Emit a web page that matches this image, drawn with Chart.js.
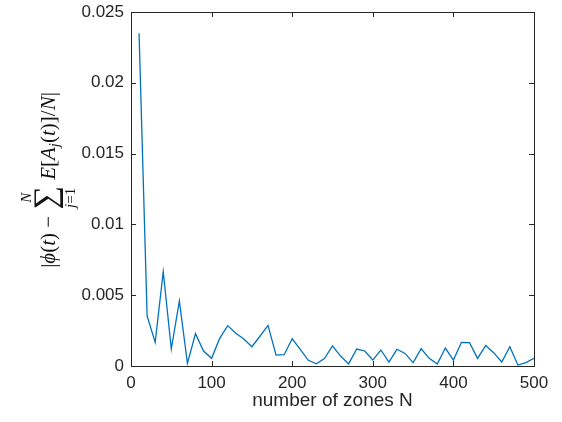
<!DOCTYPE html>
<html>
<head>
<meta charset="utf-8">
<script src="https://cdn.jsdelivr.net/npm/chart.js@4.4.1/dist/chart.umd.min.js"></script>
<style>
  body { margin: 0; background: #fff; }
  #wrap { width: 562px; height: 422px; }
</style>
</head>
<body>
<div id="wrap"><canvas id="error-chart" width="562" height="422"></canvas></div>
<script>
const zonesN = [10, 20, 30, 40, 50, 60, 70, 80, 90, 100,
  110, 120, 130, 140, 150, 160, 170, 180, 190, 200,
  210, 220, 230, 240, 250, 260, 270, 280, 290, 300,
  310, 320, 330, 340, 350, 360, 370, 380, 390, 400,
  410, 420, 430, 440, 450, 460, 470, 480, 490, 500];
const errorValues = [0.0235, 0.00353, 0.00167, 0.00666, 0.0012, 0.00459, 0.00019, 0.00228, 0.00106, 0.00054,
  0.00195, 0.00285, 0.00231, 0.0019, 0.00136, 0.0021, 0.00287, 0.00077, 0.0008, 0.00192,
  0.00118, 0.0004, 0.00015, 0.00052, 0.00142, 0.0007, 0.00015, 0.0012, 0.00106, 0.00042,
  0.00113, 0.00028, 0.00118, 0.00089, 0.00024, 0.00122, 0.00054, 0.00014, 0.00127, 0.00042,
  0.00167, 0.00165, 0.00054, 0.00144, 0.00094, 0.00028, 0.00136, 0.00007, 0.00024, 0.00054];
const xTickValues = [0, 100, 200, 300, 400, 500];
const yTickValues = [0, 0.005, 0.01, 0.015, 0.02, 0.025];
const yTickLabels = ["0", "0.005", "0.01", "0.015", "0.02", "0.025"];
const xTitle = "number of zones N";

const AXIS_COLOR = "#262626";
const SANS = "'Liberation Sans', Arial, sans-serif";
const SERIF = "'Liberation Serif', 'Times New Roman', serif";

// draws the pieces of the math label along a rotated baseline
function drawMathLabel(ctx, cy, baseX) {
  const fs = 21;
  const it = `italic ${fs}px ${SERIF}`;
  const rm = `${fs}px ${SERIF}`;
  const small = `${Math.round(fs * 0.7)}px ${SERIF}`;
  const smallIt = `italic ${Math.round(fs * 0.7)}px ${SERIF}`;
  const big = `${Math.round(fs * 1.55)}px ${SERIF}`;

  const pieces = [
    { t: "|", f: rm }, { t: "ϕ", f: it }, { t: "(", f: rm }, { t: "t", f: it }, { t: ")", f: rm },
    { t: " − ", f: rm },
    { sigma: true },
    { t: " ", f: rm },
    { t: "E", f: it }, { t: "[", f: rm }, { t: "A", f: it }, { t: "j", f: smallIt, dy: 4 },
    { t: "(", f: rm }, { t: "t", f: it }, { t: ")", f: rm }, { t: "]", f: rm },
    { t: "/", f: rm }, { t: "N", f: it }, { t: "|", f: rm }
  ];

  ctx.save();
  ctx.fillStyle = "#111";
  ctx.textBaseline = "alphabetic";
  let total = 0;
  pieces.forEach(p => {
    if (p.sigma) {
      ctx.font = big;
      p.w = ctx.measureText("∑").width + 2;
    } else {
      ctx.font = p.f;
      p.w = ctx.measureText(p.t).width;
    }
    total += p.w;
  });

  ctx.translate(baseX, cy);
  ctx.rotate(-Math.PI / 2);
  let x = -total / 2;
  pieces.forEach(p => {
    if (p.sigma) {
      const mid = x + p.w / 2;
      ctx.font = big;
      ctx.textAlign = "center";
      ctx.fillText("∑", mid, 1);
      ctx.font = smallIt;
      ctx.fillText("N", mid, -24);
      const jw = ctx.measureText("j").width;
      ctx.font = small;
      const rest = ctx.measureText("=1").width;
      const start = mid - (jw + rest) / 2;
      ctx.textAlign = "left";
      ctx.font = smallIt;
      ctx.fillText("j", start, 20);
      ctx.font = small;
      ctx.fillText("=1", start + jw, 20);
    } else {
      ctx.font = p.f;
      ctx.textAlign = "left";
      ctx.fillText(p.t, x, p.dy || 0);
    }
    x += p.w;
  });
  ctx.restore();
}

const matlabAxes = {
  id: "matlabAxes",
  afterDraw(chart) {
    const { ctx, chartArea: a, scales } = chart;
    const tick = 5;
    ctx.save();
    ctx.strokeStyle = AXIS_COLOR;
    ctx.lineWidth = 1;
    ctx.strokeRect(Math.round(a.left) + 0.5, Math.round(a.top) + 0.5,
      Math.round(a.right - a.left), Math.round(a.bottom - a.top));
    ctx.beginPath();
    xTickValues.forEach(v => {
      const px = Math.round(scales.x.getPixelForValue(v)) + 0.5;
      ctx.moveTo(px, a.bottom); ctx.lineTo(px, a.bottom - tick);
      ctx.moveTo(px, a.top); ctx.lineTo(px, a.top + tick);
    });
    yTickValues.forEach(v => {
      const py = Math.round(scales.y.getPixelForValue(v)) + 0.5;
      ctx.moveTo(a.left, py); ctx.lineTo(a.left + tick, py);
      ctx.moveTo(a.right, py); ctx.lineTo(a.right - tick, py);
    });
    ctx.stroke();

    ctx.fillStyle = AXIS_COLOR;
    ctx.font = `19px ${SANS}`;
    ctx.textAlign = "center";
    ctx.textBaseline = "alphabetic";
    ctx.fillText(xTitle, (a.left + a.right) / 2, 406);
    ctx.restore();

    drawMathLabel(ctx, 180, 55);
  }
};

const chart = new Chart(document.getElementById("error-chart"), {
  type: "line",
  data: {
    datasets: [{
      data: zonesN.map((n, i) => ({ x: n, y: errorValues[i] })),
      borderColor: "#0072BD",
      borderWidth: 1.3,
      pointRadius: 0,
      tension: 0,
      fill: false
    }]
  },
  options: {
    responsive: false,
    animation: false,
    devicePixelRatio: 1,
    layout: { padding: { top: 12, right: 28, left: 0, bottom: 0 } },
    plugins: { legend: { display: false }, tooltip: { enabled: false } },
    scales: {
      x: {
        type: "linear",
        min: 0,
        max: 500,
        afterBuildTicks: s => { s.ticks = xTickValues.map(v => ({ value: v })); },
        afterFit: s => { s.height = 56; s.paddingLeft = 0; s.paddingRight = 0; },
        ticks: { color: AXIS_COLOR, font: { family: SANS, size: 17 }, padding: 7, maxRotation: 0 },
        grid: { display: false, drawTicks: false },
        border: { display: false }
      },
      y: {
        min: 0,
        max: 0.025,
        afterBuildTicks: s => { s.ticks = yTickValues.map(v => ({ value: v })); },
        afterFit: s => { s.width = 131; s.paddingTop = 0; s.paddingBottom = 0; },
        ticks: {
          color: AXIS_COLOR,
          font: { family: SANS, size: 17 },
          padding: 7,
          callback: (v, i) => yTickLabels[i]
        },
        grid: { display: false, drawTicks: false },
        border: { display: false }
      }
    }
  },
  plugins: [matlabAxes]
});
</script>
</body>
</html>
